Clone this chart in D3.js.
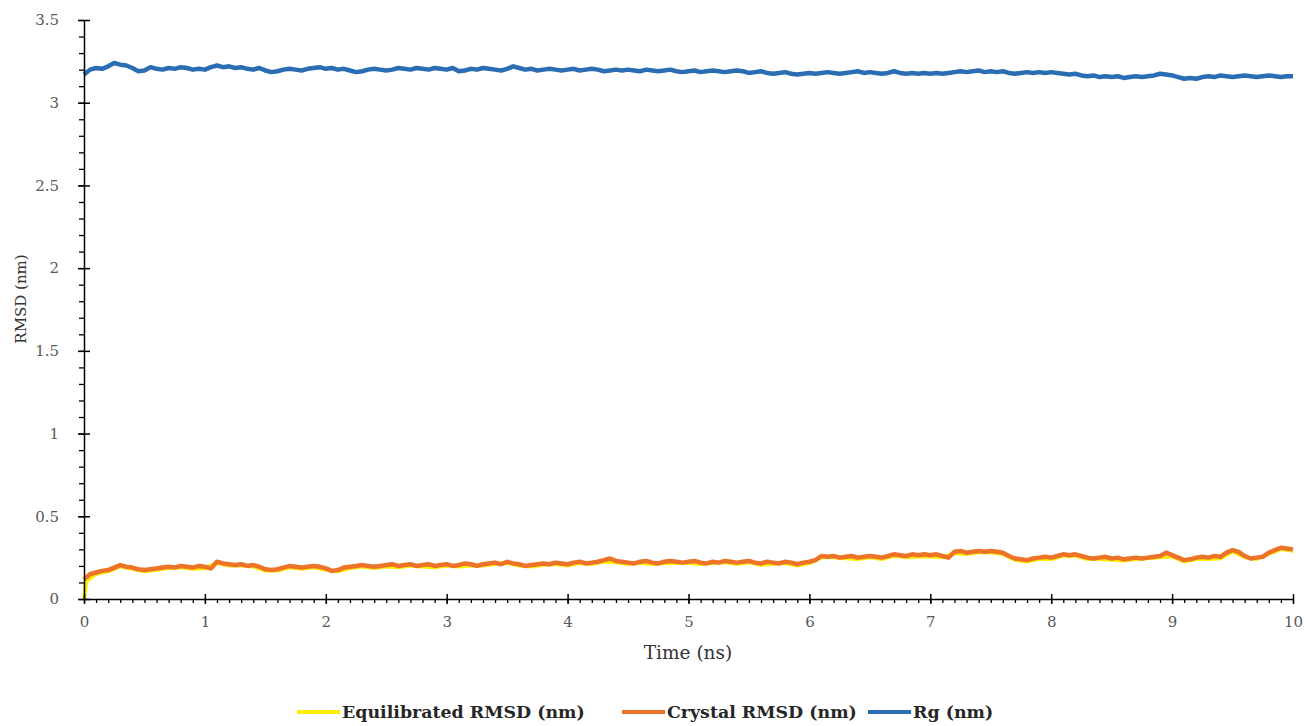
<!DOCTYPE html>
<html lang="en">
<head>
<meta charset="UTF-8">
<title>RMSD and Rg</title>
<script src="https://cdn.jsdelivr.net/npm/d3@7/dist/d3.min.js"></script>
<style>
  body { margin: 0; background: #fff; }
  text { font-family: "Palatino Linotype", "Book Antiqua", Palatino, "DejaVu Serif", serif; }
</style>
</head>
<body>
<div id="container"></div>
<script>
// time grids (ns)
let timeFine = d3.range(0, 10.0001, 0.05);
let timeEquil = [0, 0.02].concat(d3.range(0.1, 10.0001, 0.1));

// Crystal RMSD (nm), every 0.05 ns
let crystalRmsd = [
  0.12, 0.15, 0.16, 0.17, 0.175, 0.19, 0.205, 0.195, 0.19, 0.18,
  0.175, 0.18, 0.185, 0.19, 0.195, 0.19, 0.2, 0.195, 0.19, 0.2,
  0.195, 0.185, 0.225, 0.215, 0.21, 0.205, 0.21, 0.2, 0.205, 0.195,
  0.18, 0.175, 0.18, 0.19, 0.2, 0.195, 0.19, 0.195, 0.2, 0.195,
  0.185, 0.17, 0.175, 0.19, 0.195, 0.2, 0.205, 0.2, 0.195, 0.2,
  0.205, 0.21, 0.2, 0.205, 0.21, 0.2, 0.205, 0.21, 0.2, 0.205,
  0.21, 0.2, 0.205, 0.215, 0.21, 0.2, 0.21, 0.215, 0.22, 0.21,
  0.225, 0.215, 0.21, 0.2, 0.205, 0.21, 0.215, 0.21, 0.22, 0.215,
  0.21, 0.22, 0.225, 0.215, 0.22, 0.225, 0.235, 0.245, 0.23, 0.225,
  0.22, 0.215, 0.225, 0.23, 0.22, 0.215, 0.225, 0.23, 0.225, 0.22,
  0.225, 0.23, 0.22, 0.215, 0.225, 0.22, 0.23, 0.225, 0.22, 0.225,
  0.23, 0.22, 0.215, 0.225, 0.22, 0.215, 0.225, 0.22, 0.21, 0.22,
  0.225, 0.235, 0.26, 0.255, 0.26, 0.25, 0.255, 0.26, 0.25, 0.255,
  0.26, 0.255, 0.25, 0.26, 0.27, 0.265, 0.26, 0.27, 0.265, 0.27,
  0.265, 0.27, 0.26, 0.25, 0.285, 0.29, 0.28, 0.285, 0.29, 0.285,
  0.29, 0.285, 0.28, 0.26, 0.245, 0.24, 0.235, 0.245, 0.25, 0.255,
  0.25, 0.26, 0.27, 0.265, 0.27, 0.26, 0.25, 0.245, 0.25, 0.255,
  0.245, 0.25, 0.24, 0.245, 0.25, 0.245, 0.25, 0.255, 0.26, 0.28,
  0.265, 0.25, 0.235, 0.24, 0.25, 0.255, 0.25, 0.26, 0.255, 0.28,
  0.295, 0.285, 0.26, 0.245, 0.25, 0.255, 0.28, 0.295, 0.31, 0.305,
  0.3
];

// Rg (nm), every 0.05 ns
let rg = [
  3.17, 3.2, 3.21, 3.205, 3.22, 3.24, 3.23, 3.225, 3.21, 3.19,
  3.195, 3.215, 3.205, 3.2, 3.21, 3.205, 3.215, 3.21, 3.2, 3.205,
  3.2, 3.215, 3.225, 3.215, 3.22, 3.21, 3.215, 3.205, 3.2, 3.21,
  3.195, 3.185, 3.19, 3.2, 3.205, 3.2, 3.195, 3.205, 3.21, 3.215,
  3.205, 3.21, 3.2, 3.205, 3.195, 3.185, 3.19, 3.2, 3.205, 3.2,
  3.195, 3.2, 3.21, 3.205, 3.2, 3.21, 3.205, 3.2, 3.21, 3.205,
  3.2, 3.21, 3.19, 3.195, 3.205, 3.2, 3.21, 3.205, 3.2, 3.195,
  3.205, 3.22, 3.21, 3.2, 3.205, 3.195, 3.2, 3.205, 3.2, 3.195,
  3.2, 3.205, 3.195, 3.2, 3.205, 3.2, 3.19, 3.195, 3.2, 3.195,
  3.2, 3.195, 3.19, 3.2, 3.195, 3.19, 3.195, 3.2, 3.19, 3.185,
  3.19, 3.195, 3.185, 3.19, 3.195, 3.19, 3.185, 3.19, 3.195, 3.19,
  3.18, 3.185, 3.19, 3.18, 3.175, 3.18, 3.185, 3.175, 3.17, 3.175,
  3.18, 3.175, 3.18, 3.185, 3.18, 3.175, 3.18, 3.185, 3.19, 3.18,
  3.185, 3.18, 3.175, 3.18, 3.19, 3.18, 3.175, 3.18, 3.175, 3.18,
  3.175, 3.18, 3.175, 3.18, 3.185, 3.19, 3.185, 3.19, 3.195, 3.185,
  3.19, 3.185, 3.19, 3.18, 3.175, 3.18, 3.185, 3.18, 3.185, 3.18,
  3.185, 3.18, 3.175, 3.17, 3.175, 3.165, 3.16, 3.165, 3.155, 3.16,
  3.155, 3.16, 3.15, 3.155, 3.16, 3.155, 3.16, 3.165, 3.175, 3.17,
  3.165, 3.155, 3.145, 3.15, 3.145, 3.155, 3.16, 3.155, 3.165, 3.16,
  3.155, 3.16, 3.165, 3.16, 3.155, 3.16, 3.165, 3.16, 3.155, 3.16,
  3.16
];

// Equilibrated RMSD (nm), mostly hidden under the crystal curve
let equilibratedRmsd = [
  0, 0.11,
  0.152, 0.167, 0.197, 0.182, 0.167, 0.177, 0.187, 0.192, 0.182,
  0.187, 0.217, 0.202, 0.202, 0.197, 0.172, 0.172, 0.192, 0.182, 0.192,
  0.177, 0.167, 0.187, 0.197, 0.187, 0.197, 0.192, 0.202, 0.197, 0.192,
  0.202, 0.197, 0.202, 0.202, 0.212, 0.217, 0.202, 0.197, 0.207, 0.212,
  0.202, 0.217, 0.212, 0.227, 0.222, 0.212, 0.217, 0.212, 0.217, 0.217,
  0.217, 0.212, 0.217, 0.222, 0.212, 0.222, 0.207, 0.212, 0.217, 0.202,
  0.217, 0.252, 0.252, 0.247, 0.242, 0.252, 0.242, 0.262, 0.252, 0.257,
  0.257, 0.252, 0.277, 0.272, 0.282, 0.282, 0.272, 0.237, 0.227, 0.242,
  0.242, 0.262, 0.262, 0.242, 0.242, 0.237, 0.232, 0.242, 0.247, 0.252,
  0.257, 0.227, 0.242, 0.242, 0.247, 0.287, 0.252, 0.242, 0.272, 0.302,
  0.292
];

let seriesNames = ["Equilibrated RMSD (nm)", "Crystal RMSD (nm)", "Rg (nm)"];
let seriesColors = ["#ffee00", "#ec7328", "#2a6db3"];
let xTicks = d3.range(0, 11, 1);
let yTicks = [0, 0.5, 1, 1.5, 2, 2.5, 3, 3.5];

let W = 1306, H = 726;
let svg = d3.select('#container')
  .append('svg')
  .attr('width', W)
  .attr('height', H);

let x = d3.scaleLinear().domain([0, 10]).range([84, 1293]);
let y = d3.scaleLinear().domain([0, 3.5]).range([599, 20]);

// minor ticks first
svg.append('g')
  .attr('transform', 'translate(0,' + y(0) + ')')
  .call(d3.axisBottom(x).tickValues(d3.range(0, 10.001, 0.1)).tickSize(4).tickFormat(''))
  .call(g => g.select('.domain').remove())
  .call(g => g.selectAll('line').attr('stroke', '#000').attr('stroke-width', 1.3));

svg.append('g')
  .attr('transform', 'translate(' + x(0) + ',0)')
  .call(d3.axisLeft(y).tickValues(d3.range(0, 3.5001, 0.1)).tickSize(5).tickFormat(''))
  .call(g => g.select('.domain').remove())
  .call(g => g.selectAll('line').attr('stroke', '#000').attr('stroke-width', 1.3));

// lines
let lineFine = d3.line().x((d, i) => x(timeFine[i])).y(d => y(d));
let lineEquil = d3.line().x((d, i) => x(timeEquil[i])).y(d => y(d));

svg.append('path').datum(equilibratedRmsd)
  .attr('d', lineEquil).attr('fill', 'none')
  .attr('stroke', seriesColors[0]).attr('stroke-width', 4).attr('stroke-linejoin', 'round');

svg.append('path').datum(crystalRmsd)
  .attr('d', lineFine).attr('fill', 'none')
  .attr('stroke', seriesColors[1]).attr('stroke-width', 4.5).attr('stroke-linejoin', 'round');

svg.append('path').datum(rg)
  .attr('d', lineFine).attr('fill', 'none')
  .attr('stroke', seriesColors[2]).attr('stroke-width', 4.5).attr('stroke-linejoin', 'round');

// major axes
let xAxis = svg.append('g')
  .attr('transform', 'translate(0,' + y(0) + ')')
  .call(d3.axisBottom(x).tickValues(xTicks).tickSize(5).tickSizeOuter(0).tickPadding(12).tickFormat(d3.format('d')));
xAxis.select('.domain').attr('stroke', '#000').attr('stroke-width', 1.5);
xAxis.selectAll('.tick line').attr('y1', -5).attr('stroke', '#000').attr('stroke-width', 1.5);
xAxis.selectAll('text').attr('fill', '#595959').style('font-size', '15px');

let yAxis = svg.append('g')
  .attr('transform', 'translate(' + x(0) + ',0)')
  .call(d3.axisLeft(y).tickValues(yTicks).tickSize(6).tickSizeOuter(0).tickPadding(19).tickFormat(d => d));
yAxis.select('.domain').attr('stroke', '#000').attr('stroke-width', 1.5);
yAxis.selectAll('.tick line').attr('x1', 6).attr('stroke', '#000').attr('stroke-width', 1.5);
yAxis.selectAll('text').attr('fill', '#595959').style('font-size', '15px');

// axis titles
svg.append('text')
  .attr('x', 688).attr('y', 659)
  .attr('text-anchor', 'middle')
  .style('font-size', '18.5px').attr('fill', '#333')
  .text('Time (ns)');

svg.append('text')
  .attr('transform', 'translate(26,299) rotate(-90)')
  .attr('text-anchor', 'middle')
  .style('font-size', '15px').attr('fill', '#333')
  .text('RMSD (nm)');

// legend
let legendX = [297, 622, 868];
seriesNames.forEach((name, i) => {
  svg.append('line')
    .attr('x1', legendX[i]).attr('x2', legendX[i] + 43)
    .attr('y1', 712).attr('y2', 712)
    .attr('stroke', seriesColors[i]).attr('stroke-width', 4);
  svg.append('text')
    .attr('x', legendX[i] + 45).attr('y', 718)
    .style('font-size', '17.4px').style('font-weight', 'bold')
    .attr('fill', '#262626')
    .text(name);
});
</script>
</body>
</html>
